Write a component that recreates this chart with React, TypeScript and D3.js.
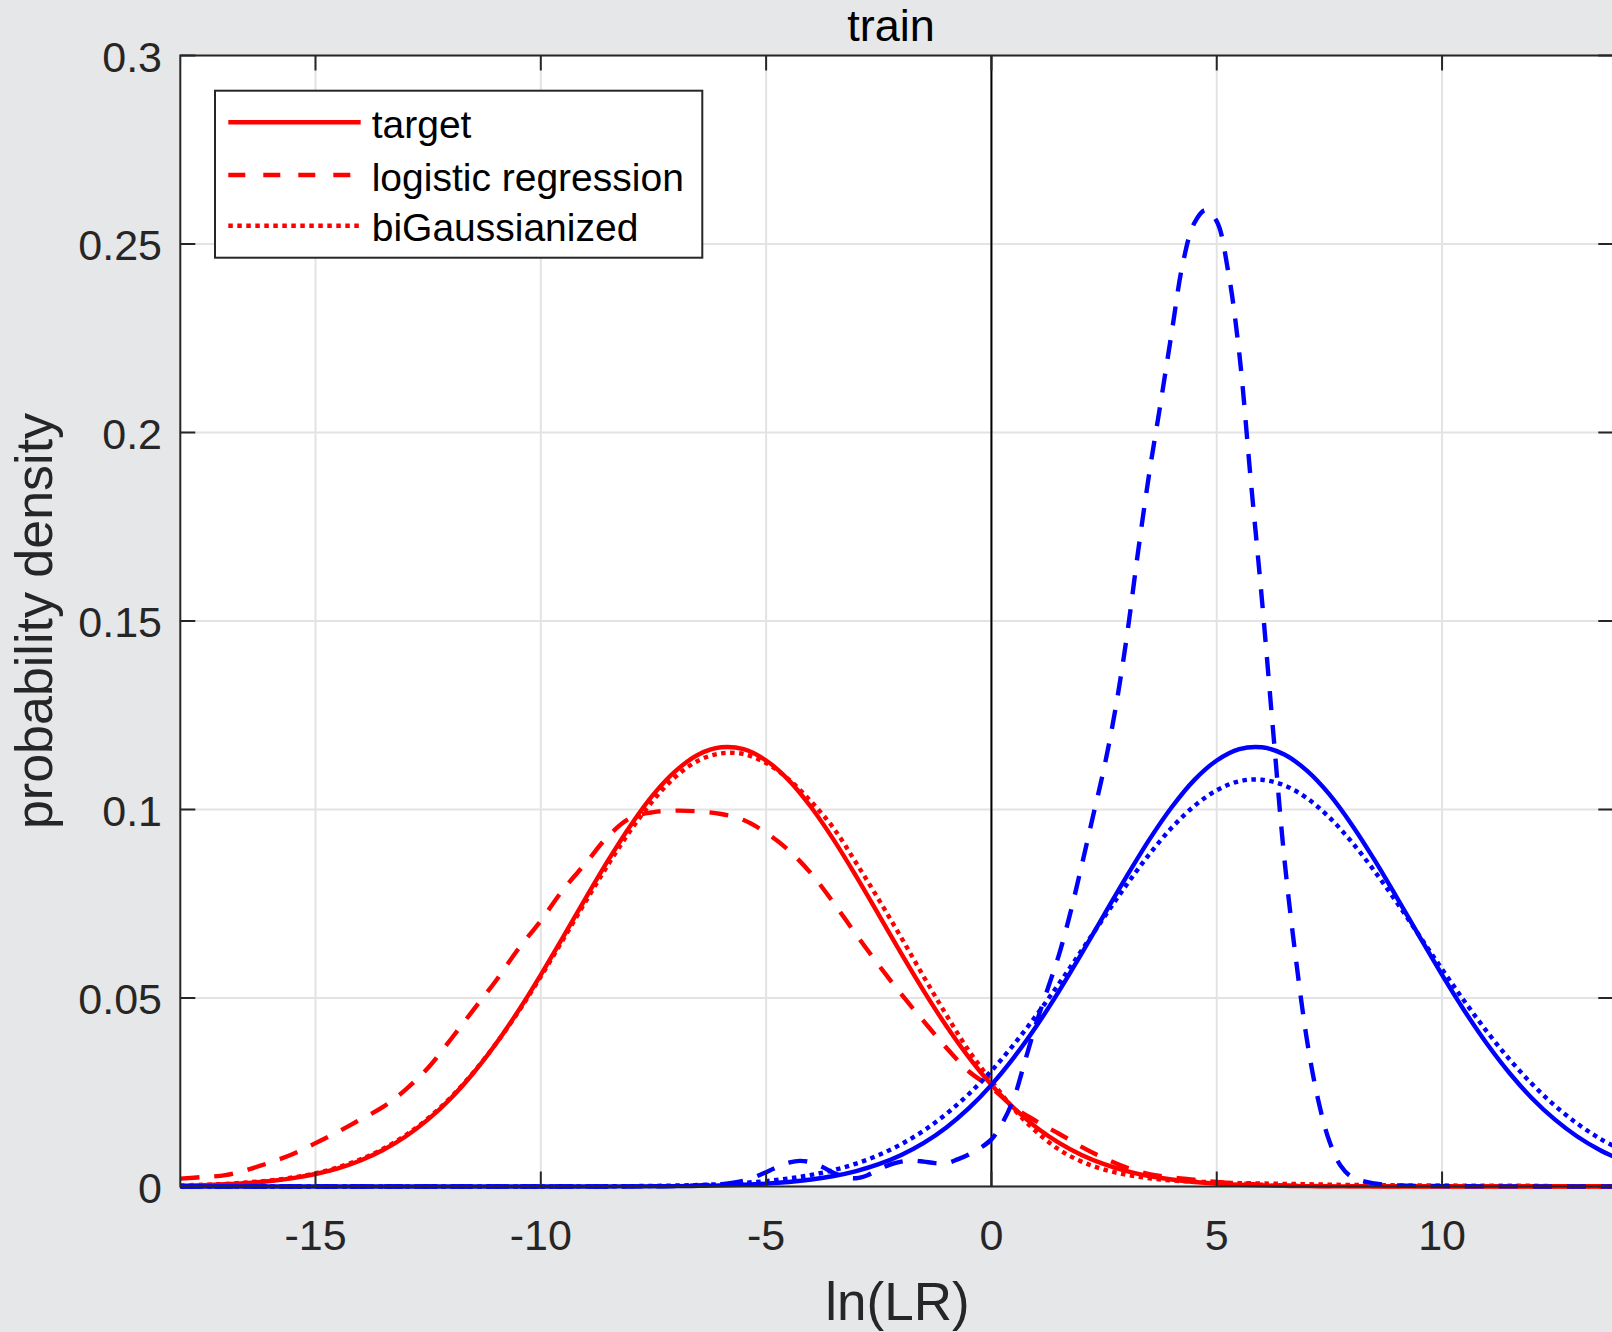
import React from 'react';
import * as d3 from 'd3';

// ---------- data ----------
const xGrid = [
  -18, -17.5, -17, -16.5, -16, -15.5, -15, -14.5, -14, -13.5, -13, -12.5, -12, -11.5, -11, -10.5,
  -10, -9.5, -9, -8.5, -8, -7.5, -7, -6.5, -6, -5.5, -5, -4.5, -4, -3.5, -3, -2.5, -2, -1.5, -1, -0.5,
  0, 0.5, 1, 1.5, 2, 2.5, 3, 3.5, 4, 4.5, 5, 5.5, 6, 6.5, 7, 7.5, 8, 8.5, 9, 9.5, 10, 10.5, 11, 11.5,
  12, 12.5, 13, 13.5, 14,
];

const redTarget = [
  0.00022, 0.00036, 0.00059, 0.00093, 0.00145, 0.00222, 0.00331, 0.00483, 0.00691, 0.00968, 0.01326,
  0.01779, 0.02336, 0.03004, 0.03779, 0.04656, 0.05614, 0.06628, 0.07657, 0.08662, 0.09591, 0.104,
  0.1103, 0.1146, 0.1165, 0.116, 0.113, 0.1078, 0.1006, 0.09195, 0.08226, 0.07205, 0.06176, 0.05184,
  0.04258, 0.03425, 0.02696, 0.02078, 0.01567, 0.01157, 0.00837, 0.00592, 0.0041, 0.00278, 0.00185,
  0.0012, 0.00076, 0.00048, 0.00029, 0.00017, 0.0001, 0.00006, 0.00003, 0.00002, 0.00001, 0, 0, 0, 0,
  0, 0, 0, 0, 0, 0,
];

const redLogReg = [
  0.0021, 0.0025, 0.003, 0.0045, 0.0064, 0.0086, 0.0115, 0.0145, 0.0178, 0.0211, 0.0257, 0.0315,
  0.039, 0.0468, 0.0545, 0.063, 0.0705, 0.0788, 0.0858, 0.093, 0.0978, 0.0993, 0.0997, 0.0995,
  0.0988, 0.0972, 0.0938, 0.0892, 0.083, 0.0752, 0.0668, 0.0587, 0.051, 0.0438, 0.0368, 0.0305,
  0.0262, 0.021, 0.0173, 0.014, 0.0105, 0.0075, 0.005, 0.0033, 0.0024, 0.0018, 0.0012, 0.0008,
  0.0005, 0.0003, 0.0002, 0.0001, 0.0001, 0.0001, 0.0001, 0.0001, 0.0001, 0.0001, 0.0001, 0.0001,
  0.0001, 0.0001, 0.0001, 0.0001, 0.0001,
];

const redBiGauss = [
  0.0003, 0.00045, 0.0007, 0.0011, 0.0016, 0.0024, 0.0035, 0.0051, 0.0072, 0.01, 0.0136, 0.0181,
  0.0236, 0.0302, 0.0378, 0.0463, 0.0557, 0.0656, 0.0757, 0.0855, 0.0946, 0.1025, 0.1088, 0.113,
  0.1149, 0.1147, 0.1123, 0.108, 0.1021, 0.095, 0.0858, 0.0761, 0.066, 0.0556, 0.0455, 0.036, 0.028,
  0.0205, 0.0145, 0.0098, 0.0066, 0.0045, 0.0031, 0.0022, 0.0016, 0.0013, 0.0011, 0.0009, 0.0008,
  0.0007, 0.0006, 0.0005, 0.0004, 0.0004, 0.0003, 0.0003, 0.0003, 0.0002, 0.0002, 0.0002, 0.0002,
  0.0001, 0.0001, 0.0001, 0.0001,
];

const blueTarget = [
  0, 0, 0, 0, 0, 0, 0, 0, 0, 0, 0, 0, 0, 0, 0, 0, 0, 0, 0.00001, 0.00002, 0.00003, 0.00006, 0.0001,
  0.00017, 0.00029, 0.00048, 0.00076, 0.0012, 0.00185, 0.00278, 0.0041, 0.00592, 0.00837, 0.01157,
  0.01567, 0.02078, 0.02696, 0.03425, 0.04258, 0.05184, 0.06176, 0.07205, 0.08226, 0.09195, 0.1006,
  0.1078, 0.113, 0.116, 0.1165, 0.1146, 0.1103, 0.104, 0.09591, 0.08662, 0.07657, 0.06628, 0.05614,
  0.04656, 0.03779, 0.03004, 0.02336, 0.01779, 0.01326, 0.00968, 0.00691,
];

const blueBiGauss = [
  0, 0, 0, 0, 0, 0, 0, 0, 0, 0, 0, 0, 0, 0, 0, 0, 0.00001, 0.00002, 0.00003, 0.00006, 0.0001,
  0.00016, 0.00025, 0.0004, 0.00062, 0.00096, 0.00144, 0.00212, 0.00307, 0.00436, 0.00609, 0.00835,
  0.01124, 0.01485, 0.01927, 0.02454, 0.03069, 0.0377, 0.04547, 0.05383, 0.06258, 0.07142, 0.08004,
  0.08807, 0.09515, 0.1009, 0.1051, 0.1075, 0.1079, 0.1064, 0.103, 0.09787, 0.09131, 0.08367,
  0.07525, 0.06647, 0.05765, 0.04909, 0.04103, 0.03368, 0.02715, 0.02148, 0.01669, 0.01273, 0.00954,
];

const xFine = [
  -18, -10, -7, -6.5, -6, -5.5, -5, -4.75, -4.5, -4.25, -4, -3.75, -3.5, -3.25, -3, -2.75, -2.5,
  -2.25, -2, -1.75, -1.5, -1.25, -1, -0.75, -0.5, -0.25, 0, 0.25, 0.5, 0.75, 1, 1.25, 1.5, 1.75, 2,
  2.25, 2.5, 2.75, 3, 3.25, 3.5, 3.75, 4, 4.25, 4.5, 4.75, 5, 5.25, 5.5, 5.75, 6, 6.25, 6.5, 6.75, 7,
  7.25, 7.5, 7.75, 8, 8.5, 9, 10, 14,
];

const blueLogReg = [
  0, 0, 0.0001, 0.0003, 0.0006, 0.0015, 0.0038, 0.0052, 0.0063, 0.0068, 0.0064, 0.0052, 0.0036,
  0.0025, 0.0022, 0.003, 0.0045, 0.0058, 0.0066, 0.0069, 0.0066, 0.0062, 0.0062, 0.0072, 0.0085,
  0.0102, 0.0125, 0.017, 0.0235, 0.0335, 0.0435, 0.0525, 0.0615, 0.0725, 0.085, 0.098, 0.111, 0.1265,
  0.1455, 0.168, 0.189, 0.2075, 0.2265, 0.245, 0.2555, 0.259, 0.256, 0.243, 0.221, 0.188, 0.156,
  0.121, 0.087, 0.061, 0.039, 0.023, 0.012, 0.0055, 0.0025, 0.0008, 0.0003, 0.0001, 0,
];

const xTicks = [-15, -10, -5, 0, 5, 10];
const xTickLabels = ['-15', '-10', '-5', '0', '5', '10'];
const yTicks = [0, 0.05, 0.1, 0.15, 0.2, 0.25, 0.3];
const yTickLabels = ['0', '0.05', '0.1', '0.15', '0.2', '0.25', '0.3'];
const legendLabels = ['target', 'logistic regression', 'biGaussianized'];
const titleText = 'train';
const xLabelText = 'ln(LR)';
const yLabelText = 'probability density';

// ---------- layout / style ----------
const W = 1612;
const H = 1332;
const PL = 180.3;
const PR = 1613.3;
const PT = 55.5;
const PB = 1186.5;
const FONT = '"Liberation Sans", Arial, Helvetica, sans-serif';
const AXC = '#262626';
const RED = '#ff0000';
const BLUE = '#0000ff';
const DASH = '19 15';
const DOT = '4.5 4.5';
const LW = 4.4;

export default function App() {
  const x = d3.scaleLinear().domain([-18, 13.8]).range([PL, PR]);
  const y = d3.scaleLinear().domain([0, 0.3]).range([PB, PT]);

  const mk = (xs: number[], ys: number[]) =>
    d3
      .line<number>()
      .x((_, i) => x(xs[i]))
      .y((d) => y(d))
      .curve(d3.curveCatmullRom.alpha(0.5))(ys) as string;

  const series = [
    { d: mk(xGrid, redTarget), color: RED, dash: undefined },
    { d: mk(xGrid, redLogReg), color: RED, dash: DASH },
    { d: mk(xGrid, redBiGauss), color: RED, dash: DOT },
    { d: mk(xGrid, blueTarget), color: BLUE, dash: undefined },
    { d: mk(xFine, blueLogReg), color: BLUE, dash: DASH },
    { d: mk(xGrid, blueBiGauss), color: BLUE, dash: DOT },
  ];
  const legendDash = [undefined, '17 18', DOT];

  const TL = 15;
  const legend = { x0: 215, y0: 90.7, x1: 702.3, y1: 257.7, rows: [122.3, 175, 225.7] };

  return (
    <div style={{ position: 'absolute', left: 0, top: 0, width: W, height: H }}>
      <svg width={W} height={H} style={{ display: 'block' }} fontFamily={FONT}>
        <defs>
          <clipPath id="plotclip">
            <rect x={PL} y={PT - 3} width={PR - PL} height={PB - PT + 6} />
          </clipPath>
        </defs>
        <rect x={0} y={0} width={W} height={H} fill="#e6e7e9" />
        <rect x={PL} y={PT} width={PR - PL} height={PB - PT} fill="#ffffff" />

        {/* grid */}
        <g stroke="#e3e3e3" strokeWidth={2}>
          {xTicks.map((t) => (
            <line key={'gx' + t} x1={x(t)} x2={x(t)} y1={PT} y2={PB} />
          ))}
          {yTicks.map((t) => (
            <line key={'gy' + t} x1={PL} x2={PR} y1={y(t)} y2={y(t)} />
          ))}
        </g>

        {/* zero line */}
        <line x1={x(0)} x2={x(0)} y1={y(0)} y2={y(0.3)} stroke="#000" strokeWidth={2} />

        {/* curves */}
        <g clipPath="url(#plotclip)" fill="none">
          {series.map((s, i) => (
            <path
              key={i}
              d={s.d}
              stroke={s.color}
              strokeWidth={LW}
              strokeDasharray={s.dash}
              strokeLinejoin="round"
            />
          ))}
        </g>

        {/* axes box */}
        <g stroke={AXC} strokeWidth={2} fill="none">
          <rect x={PL} y={PT} width={PR - PL} height={PB - PT} />
          {xTicks.map((t) => (
            <g key={'tx' + t}>
              <line x1={x(t)} x2={x(t)} y1={PB} y2={PB - TL} />
              <line x1={x(t)} x2={x(t)} y1={PT} y2={PT + TL} />
            </g>
          ))}
          {yTicks.map((t) => (
            <g key={'ty' + t}>
              <line x1={PL} x2={PL + TL} y1={y(t)} y2={y(t)} />
              <line x1={PR} x2={PR - TL} y1={y(t)} y2={y(t)} />
            </g>
          ))}
        </g>

        {/* tick labels */}
        <g fill={AXC} fontSize={43}>
          {xTicks.map((t, i) => (
            <text key={'lx' + t} x={x(t)} y={1250} textAnchor="middle">
              {xTickLabels[i]}
            </text>
          ))}
          {yTicks.map((t, i) => (
            <text key={'ly' + t} x={162} y={y(t) + 16} textAnchor="end">
              {yTickLabels[i]}
            </text>
          ))}
        </g>

        {/* title & axis labels */}
        <text x={891} y={41} textAnchor="middle" fontSize={45} fill="#000">
          {titleText}
        </text>
        <text x={897.5} y={1320} textAnchor="middle" fontSize={53} fill={AXC}>
          {xLabelText}
        </text>
        <text
          transform={`translate(52,621) rotate(-90)`}
          textAnchor="middle"
          fontSize={52}
          fill={AXC}
        >
          {yLabelText}
        </text>

        {/* legend */}
        <rect
          x={legend.x0}
          y={legend.y0}
          width={legend.x1 - legend.x0}
          height={legend.y1 - legend.y0}
          fill="#fff"
          stroke={AXC}
          strokeWidth={2}
        />
        {legendLabels.map((lab, i) => (
          <g key={lab}>
            <line
              x1={228.3}
              x2={360.7}
              y1={legend.rows[i]}
              y2={legend.rows[i]}
              stroke={RED}
              strokeWidth={LW}
              strokeDasharray={legendDash[i]}
            />
            <text x={371.7} y={legend.rows[i] + 15.5} fontSize={39} fill="#000">
              {lab}
            </text>
          </g>
        ))}
      </svg>
    </div>
  );
}
